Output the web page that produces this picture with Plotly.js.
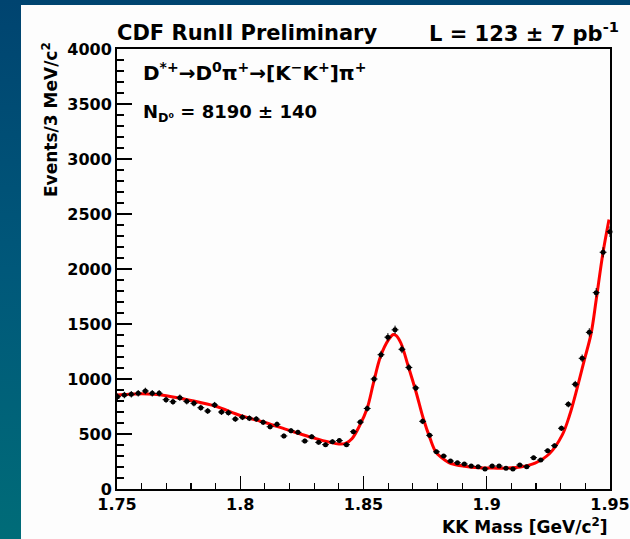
<!DOCTYPE html>
<html>
<head>
<meta charset="utf-8">
<script src="https://cdn.plot.ly/plotly-3.0.1.min.js"></script>
<style>
  html, body { margin: 0; padding: 0; }
  body {
    width: 630px; height: 539px; position: relative; overflow: hidden;
    background: linear-gradient(180deg, #004470 0%, #00587a 50%, #006c78 100%);
  }
  #panel { position: absolute; left: 21px; top: 5px; width: 609px; height: 534px; background: #fdfdfd; }
  #plot { position: absolute; left: 0; top: 0; width: 630px; height: 539px; }
</style>
</head>
<body>
<div id="panel"></div>
<div id="plot"></div>
<script>
// KK invariant mass, bin centres [GeV/c^2]
const massBins = [
  1.7502, 1.7530, 1.7558, 1.7586, 1.7615, 1.7643, 1.7671, 1.7699, 1.7727, 1.7755,
  1.7783, 1.7812, 1.7840, 1.7868, 1.7896, 1.7924, 1.7952, 1.7980, 1.8009, 1.8037,
  1.8065, 1.8093, 1.8121, 1.8149, 1.8177, 1.8206, 1.8234, 1.8262, 1.8290, 1.8318,
  1.8346, 1.8374, 1.8402, 1.8431, 1.8459, 1.8487, 1.8515, 1.8543, 1.8571, 1.8599,
  1.8628, 1.8656, 1.8684, 1.8712, 1.8740, 1.8768, 1.8796, 1.8825, 1.8853, 1.8881,
  1.8909, 1.8937, 1.8965, 1.8993, 1.9022, 1.9050, 1.9078, 1.9106, 1.9134, 1.9162,
  1.9190, 1.9219, 1.9247, 1.9275, 1.9303, 1.9331, 1.9359, 1.9387, 1.9416, 1.9444,
  1.9472, 1.9500
];

// Events per bin
const events = [
  839, 854, 861, 870, 891, 870, 870, 812, 794, 830,
  797, 779, 739, 709, 764, 700, 694, 636, 652, 643,
  636, 606, 566, 588, 482, 530, 515, 436, 475, 424,
  403, 430, 440, 403, 521, 608, 732, 1000, 1221, 1380,
  1447, 1270, 1105, 919, 615, 488, 338, 300, 254, 239,
  227, 209, 203, 182, 209, 209, 188, 182, 218, 203,
  285, 264, 348, 394, 552, 770, 952, 1188, 1424, 1785,
  2152, 2339
];

// Fitted signal + background shape, sampled along the mass axis
const fitMass = [
  1.7500, 1.7548, 1.7600, 1.7650, 1.7700, 1.7800, 1.7900, 1.8000, 1.8100, 1.8200,
  1.8300, 1.8363, 1.8400, 1.8427, 1.8454, 1.8484, 1.8515, 1.8540, 1.8569, 1.8601,
  1.8621, 1.8633, 1.8652, 1.8681, 1.8714, 1.8742, 1.8770, 1.8794, 1.8831, 1.8855,
  1.8910, 1.8968, 1.9028, 1.9085, 1.9137, 1.9196, 1.9254, 1.9306, 1.9336, 1.9367,
  1.9395, 1.9423, 1.9444, 1.9471, 1.9496
];
const fitEvents = [
  854, 862, 866, 862, 848, 805, 752, 668, 605, 532,
  462, 425, 410, 415, 460, 575, 735, 960, 1205, 1355,
  1405, 1395, 1325, 1120, 875, 645, 460, 336, 262, 232,
  207, 193, 190, 190, 200, 235, 320, 490, 670, 920,
  1165, 1410, 1720, 2140, 2450
];

const xTickVals = [1.75, 1.8, 1.85, 1.9, 1.95];
const xTickText = ['1.75', '1.8', '1.85', '1.9', '1.95'];
const yTickVals = [0, 500, 1000, 1500, 2000, 2500, 3000, 3500, 4000];

const FONT = 'DejaVu Sans';
const PLOT_W = 630 - 117 - 20;   // frame width in px

const fit = {
  x: fitMass, y: fitEvents,
  type: 'scatter', mode: 'lines',
  line: { color: '#ff0000', width: 3, shape: 'spline', smoothing: 1 },
  hoverinfo: 'skip'
};

const hist = {
  x: massBins, y: events,
  type: 'scatter', mode: 'markers',
  marker: { color: 'black', size: 5, symbol: 'circle' },
  error_y: { type: 'sqrt', visible: true, color: 'black', thickness: 1, width: 0 },
  error_x: { type: 'constant', value: 0.0014, visible: true, color: 'black', thickness: 1, width: 0 },
  cliponaxis: false
};

const axisCommon = {
  showgrid: false, zeroline: false,
  showline: true, linecolor: 'black', linewidth: 2, mirror: true,
  ticks: 'inside', tickcolor: 'black', tickwidth: 1.2,
  ticklabeloverflow: 'allow',
  tickfont: { family: FONT, size: 16, color: 'black', weight: 'bold' }
};

const layout = {
  width: 630, height: 539,
  paper_bgcolor: 'rgba(0,0,0,0)', plot_bgcolor: '#fdfdfd',
  margin: { l: 117, r: 20, t: 49, b: 50, pad: 0 },
  showlegend: false,
  title: {
    text: 'CDF RunII Preliminary',
    font: { family: FONT, size: 21, color: 'black', weight: 'bold' },
    xref: 'paper', x: 0, xanchor: 'left',
    yref: 'container', y: 1 - 33 / 539, yanchor: 'middle'
  },
  xaxis: Object.assign({}, axisCommon, {
    range: [1.75, 1.95],
    tickmode: 'array', tickvals: xTickVals, ticktext: xTickText,
    ticklen: 13,
    minor: { dtick: 0.01, tick0: 1.75, ticks: 'inside', ticklen: 6, tickcolor: 'black', tickwidth: 1.2 }
  }),
  yaxis: Object.assign({}, axisCommon, {
    range: [0, 4000],
    tickmode: 'array', tickvals: yTickVals,
    ticklen: 15,
    minor: { dtick: 100, tick0: 0, ticks: 'inside', ticklen: 7, tickcolor: 'black', tickwidth: 1.2 }
  }),
  annotations: [
    {
      text: 'L = 123 ± 7 pb<sup>-1</sup>',
      xref: 'paper', yref: 'paper', x: (621 - 117) / PLOT_W, y: (489 - 32) / 440,
      xanchor: 'right', yanchor: 'middle', showarrow: false,
      font: { family: FONT, size: 21, color: 'black', weight: 'bold' }
    },
    {
      text: 'D<sup>*+</sup>→D<sup>0</sup>π<sup>+</sup>→[K<sup>−</sup>K<sup>+</sup>]π<sup>+</sup>',
      xref: 'paper', yref: 'paper', x: 24 / PLOT_W, y: (489 - 72) / 440,
      xanchor: 'left', yanchor: 'middle', showarrow: false,
      font: { family: FONT, size: 20, color: 'black', weight: 'bold' }
    },
    {
      text: 'N<sub>D⁰</sub> = 8190 ± 140',
      xref: 'paper', yref: 'paper', x: 24 / PLOT_W, y: (489 - 113) / 440,
      xanchor: 'left', yanchor: 'middle', showarrow: false,
      font: { family: FONT, size: 18, color: 'black', weight: 'bold' }
    },
    {
      text: 'Events/3 MeV/c<sup>2</sup>',
      textangle: -90,
      xref: 'paper', yref: 'paper', x: (50 - 117) / PLOT_W, y: (489 - 120) / 440,
      xanchor: 'center', yanchor: 'middle', showarrow: false,
      font: { family: FONT, size: 17, color: 'black', weight: 'bold' }
    },
    {
      text: 'KK Mass [GeV/c<sup>2</sup>]',
      xref: 'paper', yref: 'paper', x: 1, y: (489 - 526) / 440,
      xanchor: 'right', yanchor: 'middle', showarrow: false,
      font: { family: FONT, size: 17, color: 'black', weight: 'bold' }
    }
  ]
};

Plotly.newPlot('plot', [fit, hist], layout, { displayModeBar: false, staticPlot: true });
</script>
</body>
</html>
